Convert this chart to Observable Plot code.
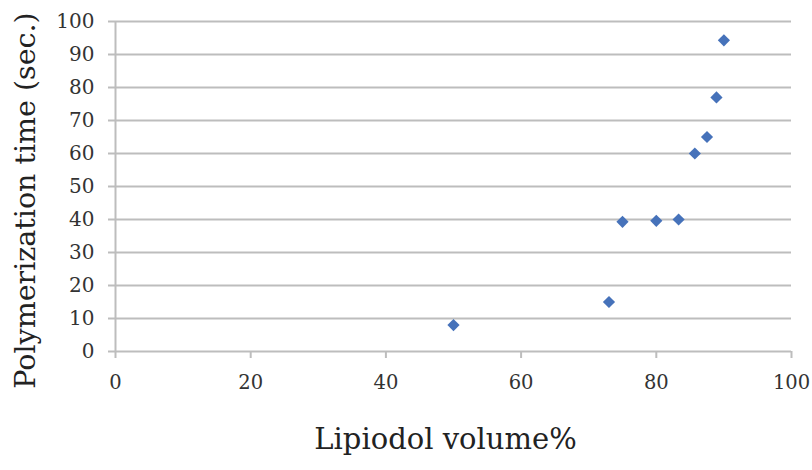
<!DOCTYPE html>
<html>
<head>
<meta charset="utf-8">
<script src="https://cdn.jsdelivr.net/npm/d3@7"></script>
<script src="https://cdn.jsdelivr.net/npm/@observablehq/plot@0.6"></script>
<style>
  html, body { margin: 0; padding: 0; background: #fff; }
  #chart { width: 812px; height: 470px; }
</style>
</head>
<body>
<div id="chart"></div>
<script>
const lipiodol = [50, 73, 75, 80, 83.3, 85.7, 87.5, 88.9, 90];
const polyTime = [8, 15, 39.3, 39.6, 40, 60, 65, 77, 94.3];
const xTicks = [0, 20, 40, 60, 80, 100];
const yTicks = [0, 10, 20, 30, 40, 50, 60, 70, 80, 90, 100];
const xTitle = "Lipiodol volume%";
const yTitle = "Polymerization time (sec.)";

const data = lipiodol.map((x, i) => ({x, y: polyTime[i]}));
const font = "DejaVu Serif";

const chart = Plot.plot({
  width: 812,
  height: 470,
  marginLeft: 115,
  marginRight: 21,
  marginTop: 21,
  marginBottom: 119,
  style: {fontFamily: font, background: "#fff"},
  x: {domain: [0, 100]},
  y: {domain: [0, 100]},
  marks: [
    Plot.ruleY(yTicks, {stroke: "#bdbdbd", strokeWidth: 2}),
    Plot.ruleX([0], {stroke: "#bdbdbd", strokeWidth: 2}),
    Plot.axisX({
      ticks: xTicks, tickSize: 7, tickPadding: 17, stroke: "#bdbdbd", strokeWidth: 2,
      fontSize: 19.5, color: "#333", label: null
    }),
    Plot.axisY({
      ticks: yTicks, tickSize: 7, tickPadding: 14, stroke: "#bdbdbd", strokeWidth: 2,
      fontSize: 20, color: "#333", label: null
    }),
    Plot.text([yTitle], {
      frameAnchor: "left", textAnchor: "middle", dx: -90, dy: 14, rotate: -90,
      fontSize: 28.5, fill: "#222", fontFamily: font
    }),
    Plot.text([xTitle], {
      frameAnchor: "bottom", textAnchor: "middle", dx: -8, dy: 97,
      fontSize: 29, fill: "#222", fontFamily: font
    }),
    Plot.dot(data, {x: "x", y: "y", symbol: "diamond2", r: 5.5, fill: "#4672BA", stroke: "none"})
  ]
});
document.getElementById("chart").append(chart);
</script>
</body>
</html>
